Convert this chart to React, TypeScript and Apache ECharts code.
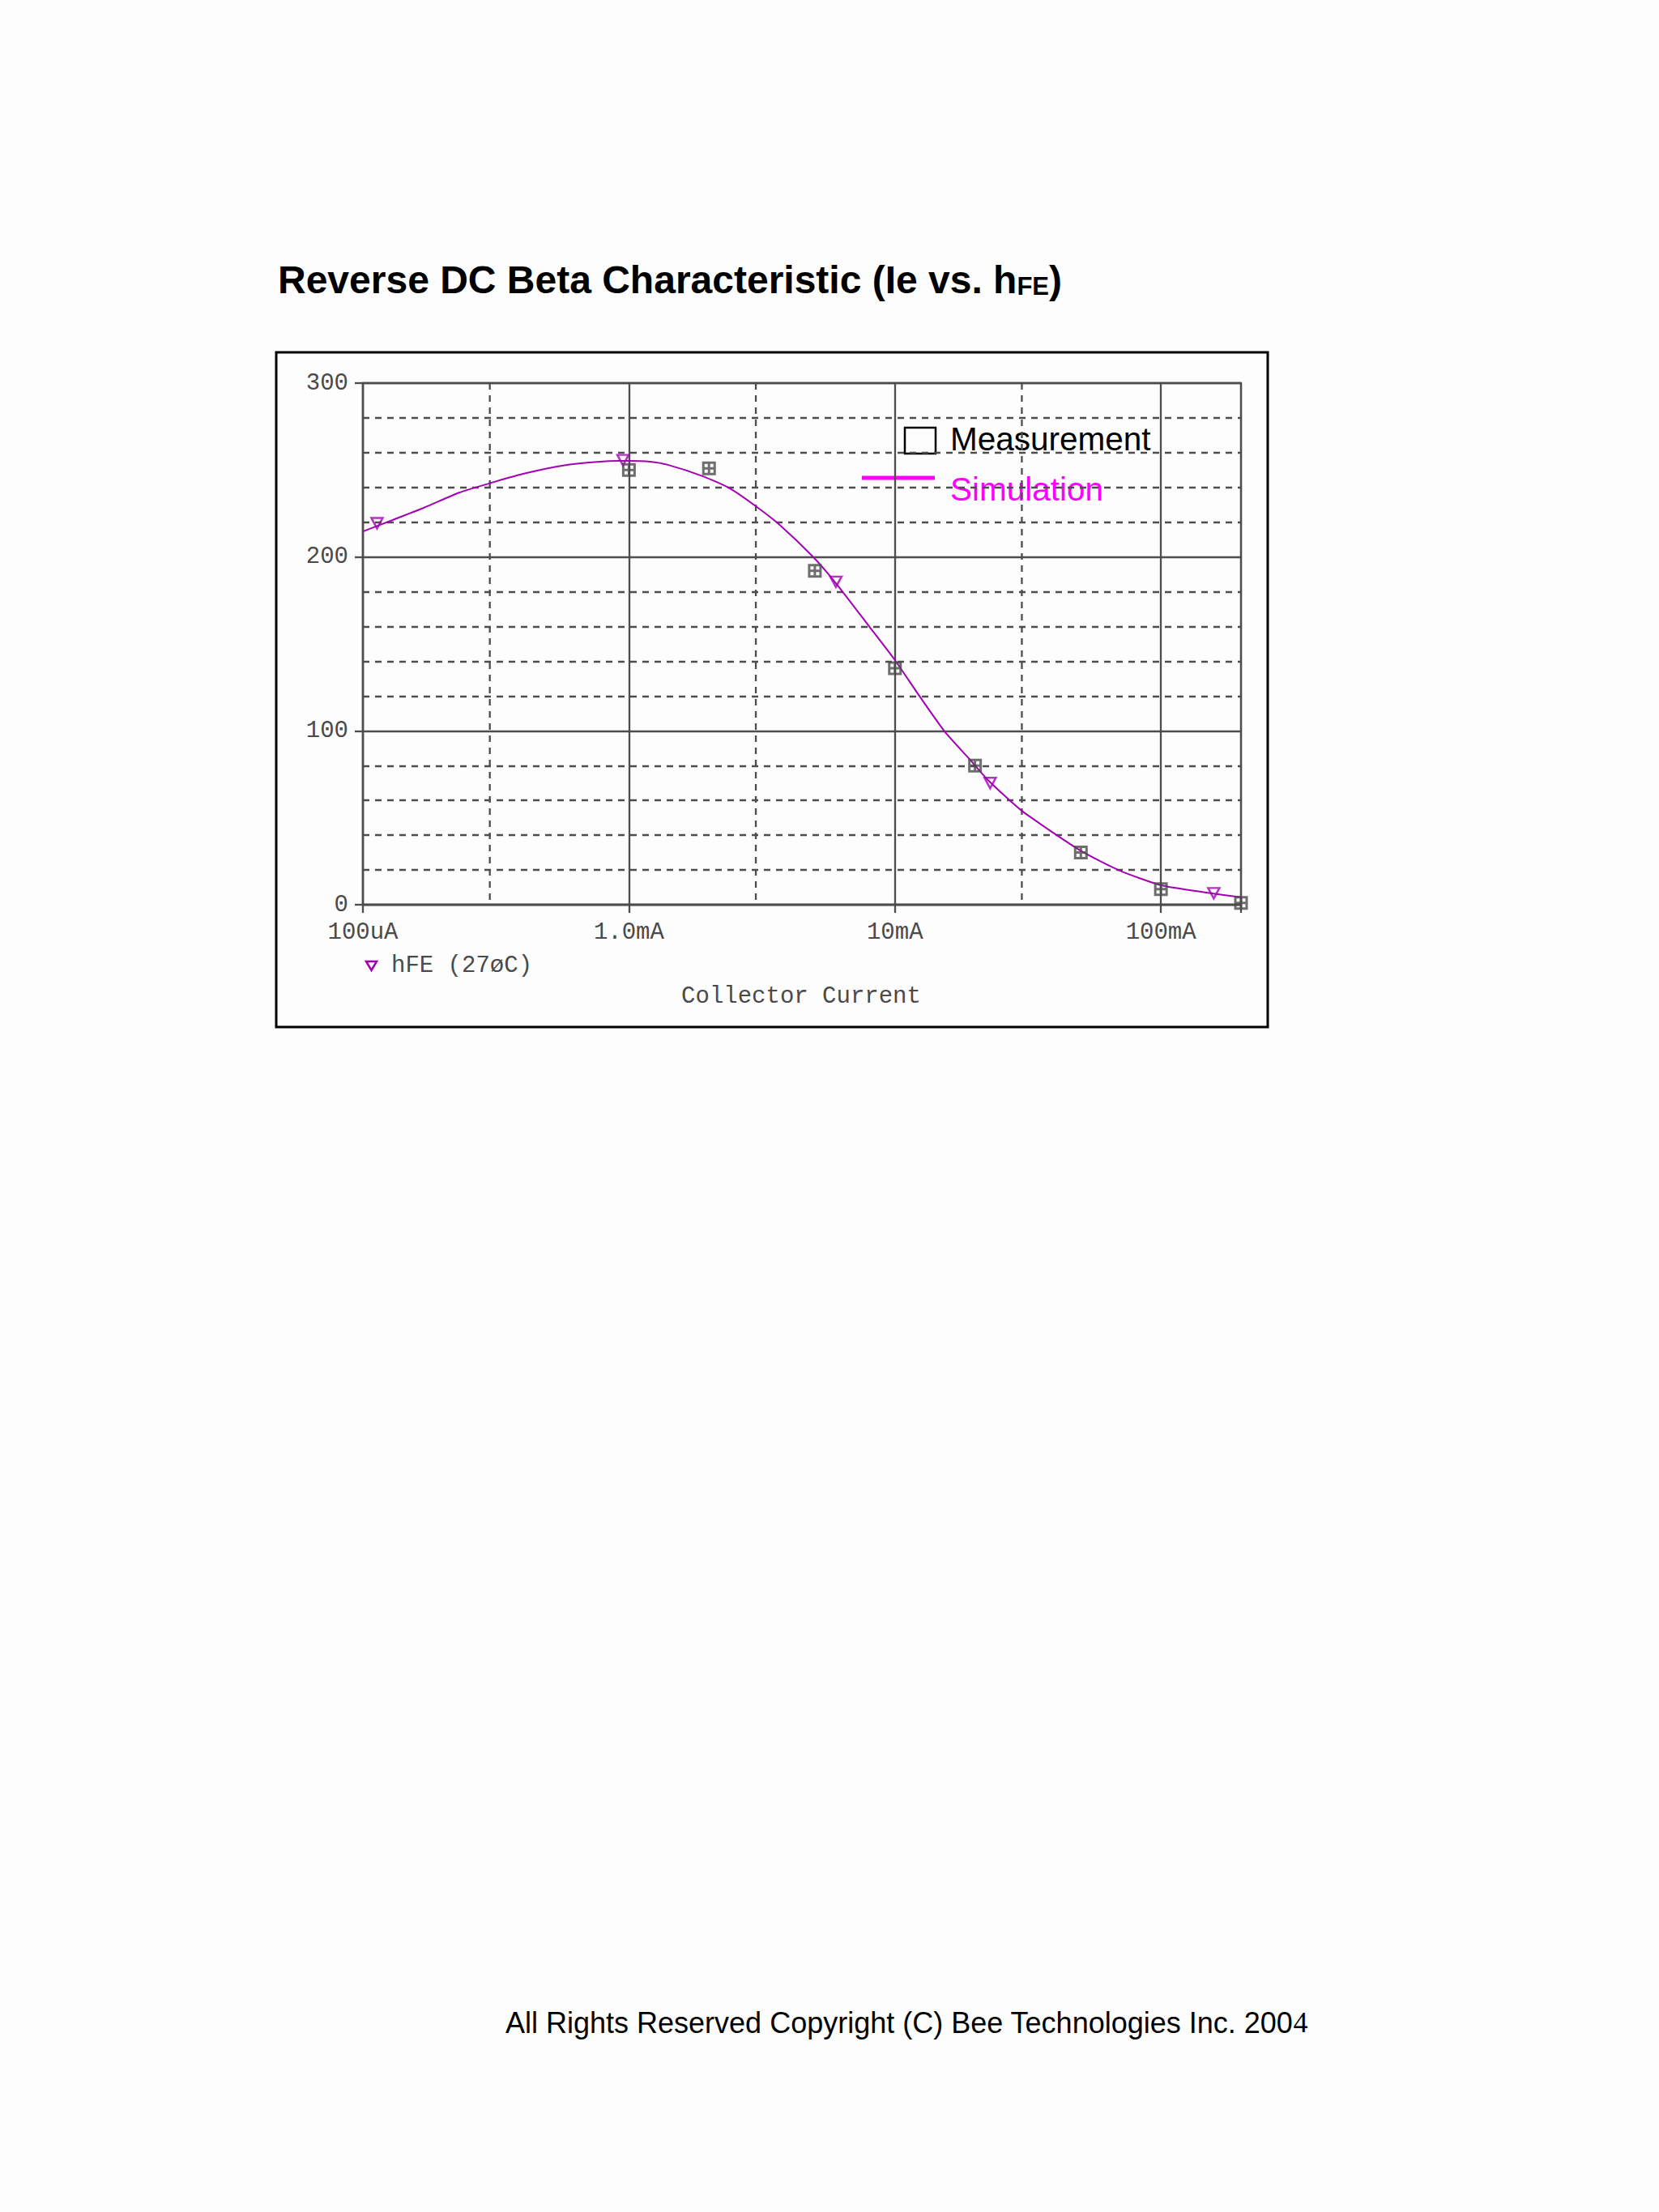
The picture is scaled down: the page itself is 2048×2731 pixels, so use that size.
import React, { useEffect, useRef } from "react";
import * as echarts from "echarts";

// ---- data ----
const xTickValues = [1e-4, 1e-3, 1e-2, 1e-1];
const xTickLabels = ["100uA", "1.0mA", "10mA", "100mA"];
const xMinorGrid = [3e-4, 3e-3, 3e-2];

const simCurrent = [
  1e-4, 1.3e-4, 1.7e-4, 2.3e-4, 3e-4, 4e-4, 5.6e-4, 7.8e-4, 1e-3, 1.2e-3, 1.4e-3, 1.9e-3,
  2.4e-3, 3e-3, 3.7e-3, 4.9e-3, 6e-3, 8e-3, 1e-2, 1.22e-2, 1.54e-2, 1.9e-2, 2.24e-2, 3e-2,
  5e-2, 7e-2, 0.1, 0.15, 0.2,
];
const simHfe = [
  214.7, 221.4, 228.4, 237.0, 242.4, 247.8, 252.5, 254.8, 255.3, 254.8, 253.0, 246.4,
  239.4, 229.2, 218.3, 200.4, 184.9, 160.1, 140.7, 121.3, 99.5, 84.0, 71.6, 54.0,
  31.0, 19.6, 11.2, 6.9, 4.3,
];

const markerCurrent = [1.13e-4, 9.5e-4, 6e-3, 2.28e-2, 0.158];
const markerHfe = [219.4, 255.7, 185.7, 70.0, 6.6];

const measCurrent = [1e-3, 2e-3, 5e-3, 1e-2, 2e-2, 5e-2, 1e-1, 2e-1];
const measHfe = [250, 251, 192, 136, 80, 30, 9, 1];

const PURPLE = "#a300b3";
const GRID = "#4d4d4d";
const GW = 2.3;
const MONO = "'Liberation Mono', 'DejaVu Sans Mono', monospace";
const SANS = "'Liberation Sans', Arial, sans-serif";
const DASH = [8, 7];

export default function App() {
  const ref = useRef<HTMLDivElement>(null);
  useEffect(() => {
    const chart = echarts.init(ref.current as HTMLDivElement, null, { renderer: "svg" });
    chart.setOption({
      animation: false,
      backgroundColor: "#fdfdfd",
      grid: {
        left: 448,
        top: 473,
        width: 1084,
        height: 644,
        show: true,
        borderColor: GRID,
        borderWidth: GW,
        backgroundColor: "transparent",
      },
      xAxis: {
        type: "log",
        logBase: 10,
        min: 1e-4,
        max: 0.2,
        axisLine: { show: true, lineStyle: { color: GRID, width: GW } },
        axisTick: { show: true, length: 10, lineStyle: { color: GRID, width: GW } },
        axisLabel: {
          margin: 20,
          fontFamily: MONO,
          fontSize: 29,
          color: "#4a4a4a",
          formatter: (v: number) => {
            for (let i = 0; i < xTickValues.length; i++) {
              if (Math.abs(Math.log10(v) - Math.log10(xTickValues[i])) < 0.01) return xTickLabels[i];
            }
            return "";
          },
        },
        splitLine: { show: true, lineStyle: { color: GRID, width: GW } },
      },
      yAxis: {
        type: "value",
        min: 0,
        max: 300,
        interval: 100,
        axisLine: { show: true, lineStyle: { color: GRID, width: GW } },
        axisTick: { show: true, length: 10, lineStyle: { color: GRID, width: GW } },
        axisLabel: { margin: 18, fontFamily: MONO, fontSize: 29, color: "#4a4a4a" },
        splitLine: { show: true, lineStyle: { color: GRID, width: GW } },
        minorTick: { show: false, splitNumber: 5 },
        minorSplitLine: { show: true, lineStyle: { color: GRID, width: GW, type: DASH } },
      },
      series: [
        {
          name: "grid3x",
          type: "custom",
          silent: true,
          z: 1,
          data: xMinorGrid.map((v) => [v, 0]),
          encode: { x: 0, y: 1 },
          renderItem: (params: any, api: any) => {
            const x = api.value(0);
            const top = api.coord([x, 300]);
            const bot = api.coord([x, 0]);
            return {
              type: "line",
              shape: { x1: top[0], y1: top[1], x2: bot[0], y2: bot[1] },
              style: { stroke: GRID, lineWidth: GW, lineDash: DASH },
            };
          },
        },
        {
          name: "hFE (27øC)",
          type: "line",
          data: simCurrent.map((x, i) => [x, simHfe[i]]),
          smooth: 0.2,
          showSymbol: false,
          symbol: "none",
          lineStyle: { color: PURPLE, width: 2 },
          z: 3,
        },
        {
          name: "hFE markers",
          type: "scatter",
          data: markerCurrent.map((x, i) => [x, markerHfe[i]]),
          symbol: "path://M0,0L10,0L5,9Z",
          symbolSize: [14, 13],
          itemStyle: { color: "rgba(255,255,255,0)", borderColor: PURPLE, borderWidth: 2.5 },
          z: 4,
        },
        {
          name: "Measurement",
          type: "scatter",
          data: measCurrent.map((x, i) => [x, measHfe[i]]),
          symbol: "path://M0,0H10V10H0Z M5,0V10 M0,5H10",
          symbolSize: 14,
          itemStyle: { color: "rgba(255,255,255,0)", borderColor: "#4a4a4a", borderWidth: 3 },
          z: 5,
        },
      ],
      graphic: [
        {
          type: "rect",
          shape: { x: 341, y: 435, width: 1224, height: 833 },
          style: { fill: "none", stroke: "#000", lineWidth: 3 },
          silent: true,
        },
        {
          type: "text",
          x: 343,
          y: 345,
          style: {
            text: "{a|Reverse DC Beta Characteristic (Ie vs. h}{b|FE}{a|)}",
            align: "left",
            verticalAlign: "middle",
            rich: {
              a: { fontFamily: SANS, fontSize: 48, fontWeight: "bold", fill: "#000", verticalAlign: "bottom" },
              b: { fontFamily: SANS, fontSize: 31, fontWeight: "bold", fill: "#000", verticalAlign: "bottom" },
            },
          },
        },
        {
          type: "rect",
          shape: { x: 1117, y: 528, width: 38, height: 32 },
          style: { fill: "none", stroke: "#000", lineWidth: 2.5 },
        },
        {
          type: "text",
          x: 1173,
          y: 542,
          style: { text: "Measurement", fontFamily: SANS, fontSize: 40.5, fill: "#000", align: "left", verticalAlign: "middle" },
        },
        {
          type: "line",
          shape: { x1: 1064, y1: 590, x2: 1154, y2: 590 },
          style: { stroke: "#ff00ff", lineWidth: 5 },
        },
        {
          type: "text",
          x: 1173,
          y: 604,
          style: { text: "Simulation", fontFamily: SANS, fontSize: 40.5, fill: "#ff00ff", align: "left", verticalAlign: "middle" },
        },
        {
          type: "polygon",
          shape: { points: [[452, 1187], [465, 1187], [458.5, 1198]] },
          style: { fill: "none", stroke: PURPLE, lineWidth: 2.5 },
        },
        {
          type: "text",
          x: 483,
          y: 1192,
          style: { text: "hFE (27øC)", fontFamily: MONO, fontSize: 29, fill: "#4a4a4a", align: "left", verticalAlign: "middle" },
        },
        {
          type: "text",
          x: 989,
          y: 1230,
          style: { text: "Collector Current", fontFamily: MONO, fontSize: 29, fill: "#4a4a4a", align: "center", verticalAlign: "middle" },
        },
        {
          type: "text",
          x: 624,
          y: 2497,
          style: {
            text: "{a|All Rights Reserved Copyright (C) Bee Technologies Inc. 200}{b|4}",
            align: "left",
            verticalAlign: "middle",
            rich: {
              a: { fontFamily: SANS, fontSize: 36, fill: "#000", verticalAlign: "bottom" },
              b: { fontFamily: "'Liberation Serif', serif", fontSize: 36, fill: "#000", verticalAlign: "bottom" },
            },
          },
        },
      ],
    });
    return () => chart.dispose();
  }, []);
  return (
    <div
      ref={ref}
      style={{ position: "absolute", left: 0, top: 0, width: 2048, height: 2731, background: "#fdfdfd" }}
    />
  );
}
